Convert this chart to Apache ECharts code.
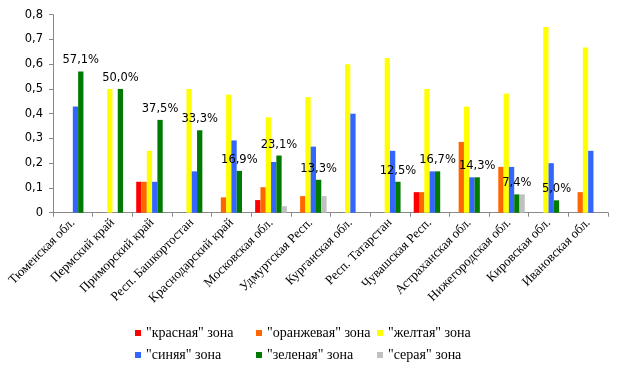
<!DOCTYPE html>
<html><head><meta charset="utf-8">
<script src="https://cdn.jsdelivr.net/npm/echarts@6/dist/echarts.min.js"></script>
<style>html,body{margin:0;padding:0;background:#fff}#c{width:623px;height:372px}</style>
</head><body><div id="c"></div>
<script>
const categories = ["Тюменская обл.","Пермский край","Приморский край","Респ. Башкортостан","Краснодарский край","Московская обл.","Удмуртская Респ.","Курганская обл.","Респ. Татарстан","Чувашская Респ.","Астраханская обл.","Нижегородская обл.","Кировская обл.","Ивановская обл."];
const seriesNames = ['"красная" зона','"оранжевая" зона','"желтая" зона','"синяя" зона','"зеленая" зона','"серая" зона'];
const red    = [null, null, 0.125, null, null, 0.051, null, null, null, 0.083, null, null, null, null];
const orange = [null, null, 0.125, null, 0.062, 0.103, 0.067, null, null, 0.083, 0.286, 0.185, null, 0.083];
const yellow = [null, 0.5, 0.25, 0.5, 0.477, 0.385, 0.467, 0.6, 0.625, 0.5, 0.429, 0.481, 0.75, 0.667];
const blue   = [0.429, null, 0.125, 0.167, 0.292, 0.205, 0.267, 0.4, 0.25, 0.167, 0.143, 0.185, 0.2, 0.25];
const green  = [0.571, 0.5, 0.375, 0.333, 0.169, 0.231, 0.133, null, 0.125, 0.167, 0.143, 0.074, 0.05, null];
const gray   = [null, null, null, null, null, 0.026, 0.067, null, null, null, null, 0.074, null, null];
const yTicks = [0, 0.1, 0.2, 0.3, 0.4, 0.5, 0.6, 0.7, 0.8];

const colors = ['#FF0000','#FF6600','#FFFF00','#3366FF','#007A00','#C0C0C0'];
const dataSets = [red, orange, yellow, blue, green, gray];
const fmtNum = v => String(Math.round(v*10)/10).replace('.', ',');
const series = dataSets.map((d, i) => ({
  name: seriesNames[i], type: 'bar', data: d, barWidth: 5.3, barGap: '0%',
  itemStyle: { color: colors[i] },
  label: i === 4 ? {
    show: true, position: 'top', distance: 5, color: '#000',
    fontFamily: 'DejaVu Sans', fontSize: 11.5,
    formatter: p => (p.value * 100).toFixed(1).replace('.', ',') + '%'
  } : { show: false }
}));
const legendPos = [[135,326],[256,326],[377,326],[135,348],[256,348],[377,348]];
const legends = seriesNames.map((n, i) => ({
  data: [n], left: legendPos[i][0], top: legendPos[i][1], itemWidth: 6, itemHeight: 6,
  icon: 'rect', itemGap: 0, padding: 0,
  textStyle: { fontFamily: 'Liberation Serif', fontSize: 14, color: '#000' }
}));
const chart = echarts.init(document.getElementById('c'), null, { renderer: 'canvas' });
chart.setOption({
  animation: false,
  color: colors,
  grid: { left: 53, right: 15, top: 14.7, bottom: 159.3 },
  legend: legends,
  xAxis: {
    type: 'category', data: categories,
    axisLine: { lineStyle: { color: '#888' } },
    axisTick: { show: true, length: 4, lineStyle: { color: '#888' } },
    axisLabel: { rotate: 45, interval: 0, margin: 8, color: '#000', fontFamily: 'Liberation Serif', fontSize: 13 }
  },
  yAxis: {
    type: 'value', min: yTicks[0], max: yTicks[yTicks.length-1], interval: 0.1,
    axisLine: { show: true, lineStyle: { color: '#888' } },
    axisTick: { show: true, length: 4, lineStyle: { color: '#888' } },
    splitLine: { show: false },
    axisLabel: { color: '#000', fontFamily: 'DejaVu Sans', fontSize: 11.5, margin: 10, formatter: v => fmtNum(v) }
  },
  series: series
});
</script></body></html>
